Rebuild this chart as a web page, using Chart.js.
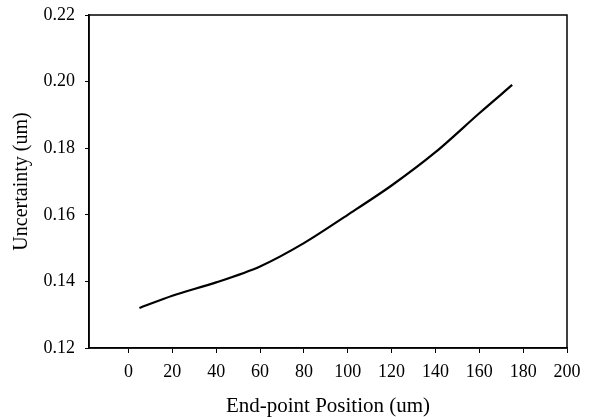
<!DOCTYPE html>
<html>
<head>
<meta charset="utf-8">
<script src="https://cdn.jsdelivr.net/npm/chart.js@4/dist/chart.umd.min.js"></script>
<style>
html,body{margin:0;padding:0;background:#fff;}
#wrap{width:595px;height:417px;position:relative;}
</style>
</head>
<body>
<div id="wrap"><canvas id="c" width="595" height="417"></canvas></div>
<script>
const positions = [5, 20, 40, 60, 80, 100, 120, 140, 160, 175];
const uncertainty = [0.132, 0.1357, 0.1397, 0.1445, 0.1515, 0.1600, 0.1688, 0.1788, 0.1905, 0.1990];
const xTicks = [0, 20, 40, 60, 80, 100, 120, 140, 160, 180, 200];
const yTicks = [0.12, 0.14, 0.16, 0.18, 0.20, 0.22];
const xTitle = 'End-point Position (um)';
const yTitle = 'Uncertainty (um)';

const FONT = '"Liberation Serif", "Times New Roman", serif';

const frame = {
  id: 'frame',
  afterDatasetsDraw(chart) {
    const {ctx, chartArea: a} = chart;
    ctx.save();
    ctx.strokeStyle = '#000';
    ctx.lineWidth = 1.5;
    ctx.strokeRect(a.left, a.top, a.right - a.left, a.bottom - a.top);
    ctx.restore();
  }
};

new Chart(document.getElementById('c'), {
  type: 'line',
  data: {
    datasets: [{
      data: positions.map((x, i) => ({x, y: uncertainty[i]})),
      borderColor: '#000',
      borderWidth: 2.2,
      pointRadius: 0,
      tension: 0.3,
      fill: false
    }]
  },
  options: {
    responsive: false,
    animation: false,
    layout: {padding: {top: 15, right: 28, left: 8, bottom: 0}},
    plugins: {legend: {display: false}, tooltip: {enabled: false}},
    scales: {
      x: {
        type: 'linear',
        min: -18, max: 200,
        afterBuildTicks(s) { s.ticks = xTicks.map(v => ({value: v})); },
        afterFit(s) { s.height = 69; },
        grid: {drawOnChartArea: false, drawTicks: true, tickLength: 5, color: '#000', lineWidth: 1},
        border: {display: true, color: '#000', width: 1.5},
        ticks: {color: '#000', font: {family: FONT, size: 18}, padding: 8, maxRotation: 0,
                callback: v => String(v)},
        title: {display: true, text: xTitle, color: '#000', font: {family: FONT, size: 21}, padding: {top: 0, bottom: -2}}
      },
      y: {
        min: 0.12, max: 0.22,
        afterBuildTicks(s) { s.ticks = yTicks.map(v => ({value: v})); },
        afterFit(s) { s.width = 81; s.paddingTop = 0; s.paddingBottom = 0; },
        grid: {drawOnChartArea: false, drawTicks: true, tickLength: 4, color: '#000', lineWidth: 1},
        border: {display: true, color: '#000', width: 1.5},
        ticks: {color: '#000', font: {family: FONT, size: 18}, padding: 10,
                callback: v => v.toFixed(2)},
        title: {display: true, text: yTitle, color: '#000', font: {family: FONT, size: 20}, padding: {top: 2, bottom: 0}}
      }
    }
  },
  plugins: [frame]
});
</script>
</body>
</html>
